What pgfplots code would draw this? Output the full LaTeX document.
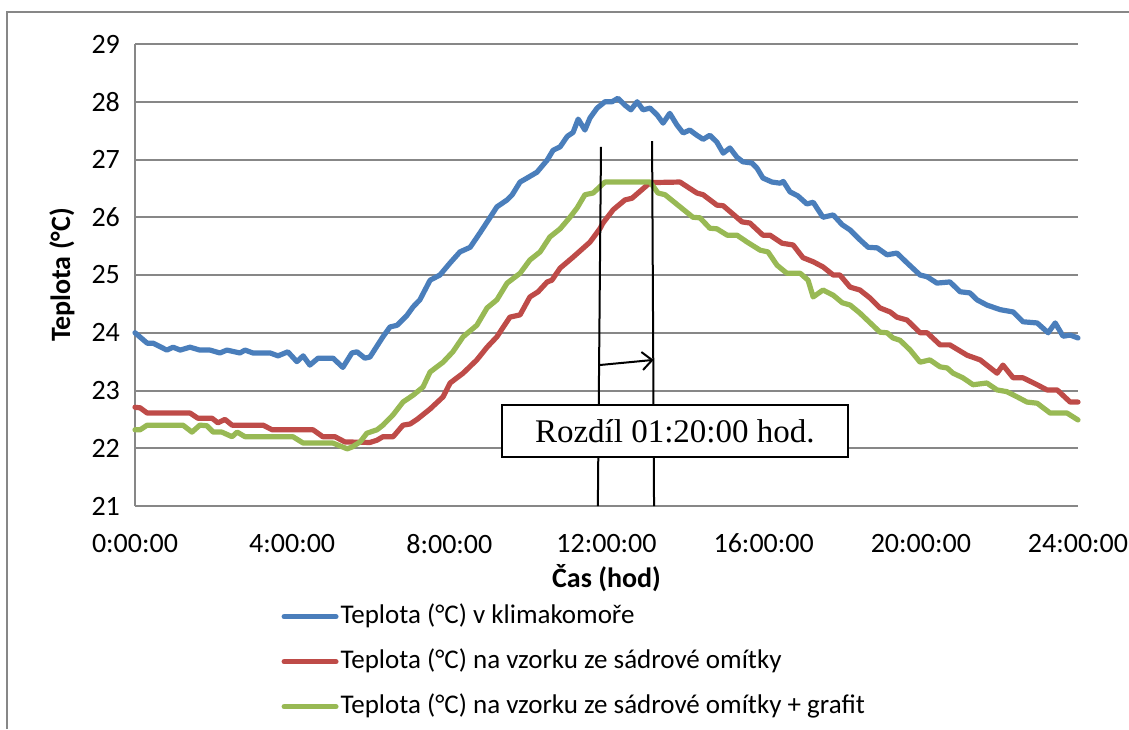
\documentclass[border=0pt]{standalone}
\usepackage{pgfplots}
\pgfplotsset{compat=1.18}
\usetikzlibrary{arrows.meta}
\usepackage{fontspec}
\setmainfont{Carlito}
\newfontfamily\timesfont{Liberation Serif}
\definecolor{serA}{HTML}{4A7EBB}
\definecolor{serB}{HTML}{BE4B48}
\definecolor{serC}{HTML}{98B954}
\definecolor{gridc}{HTML}{878787}

\begin{document}
\begin{tikzpicture}
\useasboundingbox (0,0) rectangle (564.5pt,364.5pt);
\draw[gridc, line width=1pt] (3.5pt,0) -- (3.5pt,358.5pt) -- (564.5pt,358.5pt);
\begin{axis}[
  at={(67.5pt,111.5pt)}, anchor=south west,
  scale only axis, width=471.5pt, height=231pt,
  xmin=0, xmax=24, ymin=21, ymax=29,
  axis lines*=left,
  axis line style={gridc, line width=1pt, -},
  xtick={0,4,8,12,16,20,24},
  xticklabels={0:00:00,4:00:00,8:00:00,12:00:00,16:00:00,20:00:00,24:00:00},
  ytick={21,22,...,29},
  ymajorgrids,
  grid style={gridc, line width=1pt},
  major tick length=0pt,
  tick label style={font=\fontsize{14}{16}\selectfont},
  /pgf/number format/assume math mode=true,
  xticklabel style={yshift=-10.5pt},
  yticklabel style={xshift=-4pt},
  xlabel={Čas (hod)},
  ylabel={Teplota (°C)},
  label style={font=\bfseries\fontsize{14}{16}\selectfont},
  xlabel style={at={(axis description cs:0.5,-0.1558)}, anchor=center},
  ylabel style={at={(axis description cs:-0.0774,0.5)}, anchor=center},
  legend style={at={(axis description cs:0.155,-0.19)}, anchor=north west,
    draw=none, fill=none, inner sep=0pt, row sep=0pt,
    font=\fontsize{13.5}{16}\selectfont,
    nodes={text height=10pt, text depth=3.5pt, inner ysep=4.5pt, inner xsep=1pt}},
  legend cell align=left,
  legend image code/.code={\draw[#1, line width=2.5pt] (0pt,0pt) -- (26pt,0pt);},
  every axis plot/.append style={line width=2.6pt, line join=round, line cap=round},
  clip=false,
]
\addplot[serA] coordinates {
(0,24.0) (0.31,23.82) (0.46,23.82) (0.81,23.7) (0.97,23.75) (1.15,23.7) (1.4,23.75)
(1.65,23.7) (1.91,23.7) (2.16,23.65) (2.34,23.7) (2.67,23.65) (2.8,23.7) (3.0,23.65)
(3.44,23.65) (3.64,23.6) (3.89,23.67) (4.12,23.5) (4.28,23.6) (4.45,23.44) (4.66,23.56)
(5.04,23.56) (5.29,23.4) (5.52,23.65) (5.65,23.67) (5.85,23.56) (5.98,23.58) (6.31,23.93)
(6.49,24.1) (6.67,24.13) (6.92,24.3) (7.08,24.45) (7.25,24.57) (7.51,24.91) (7.76,25.0)
(8.02,25.21) (8.27,25.4) (8.53,25.48) (8.78,25.73) (9.04,26.0) (9.21,26.18) (9.47,26.3)
(9.6,26.39) (9.8,26.61) (9.98,26.68) (10.23,26.78) (10.49,26.99) (10.64,27.16) (10.82,27.22)
(11.0,27.4) (11.15,27.47) (11.28,27.7) (11.45,27.51) (11.58,27.72) (11.76,27.89) (11.96,28.0)
(12.14,28.0) (12.29,28.06) (12.47,27.94) (12.62,27.86) (12.78,28.0) (12.93,27.86) (13.11,27.89)
(13.29,27.77) (13.44,27.63) (13.61,27.8) (13.79,27.6) (13.95,27.46) (14.12,27.51) (14.3,27.42)
(14.46,27.35) (14.63,27.42) (14.81,27.3) (14.97,27.11) (15.14,27.2) (15.32,27.04) (15.47,26.96)
(15.7,26.94) (15.83,26.85) (15.98,26.68) (16.21,26.61) (16.42,26.59) (16.5,26.62) (16.67,26.44)
(16.87,26.37) (17.1,26.23) (17.26,26.26) (17.51,26.0) (17.77,26.04) (18.0,25.87) (18.2,25.78)
(18.45,25.61) (18.66,25.48) (18.89,25.47) (19.14,25.35) (19.39,25.38) (19.65,25.21) (19.98,25.0)
(20.16,24.97) (20.41,24.86) (20.74,24.88) (21.0,24.71) (21.25,24.69) (21.43,24.57) (21.68,24.48)
(22.02,24.4) (22.35,24.36) (22.6,24.19) (22.96,24.17) (23.24,24.0) (23.42,24.17) (23.62,23.94)
(23.8,23.96) (24.0,23.91)
};
\addlegendentry{Teplota (°C) v klimakomoře}
\addplot[serB] coordinates {
(0,22.71) (0.13,22.7) (0.31,22.61) (1.4,22.61) (1.6,22.52) (1.96,22.52) (2.11,22.44)
(2.29,22.5) (2.47,22.4) (3.26,22.4) (3.49,22.32) (4.53,22.32) (4.78,22.2) (5.09,22.2)
(5.34,22.11) (5.98,22.1) (6.16,22.14) (6.31,22.2) (6.57,22.2) (6.82,22.4) (7.0,22.42)
(7.18,22.5) (7.51,22.68) (7.84,22.89) (8.02,23.13) (8.35,23.3) (8.7,23.53) (8.96,23.75)
(9.21,23.93) (9.54,24.27) (9.8,24.31) (10.05,24.62) (10.26,24.71) (10.49,24.88) (10.61,24.91)
(10.82,25.12) (11.15,25.31) (11.58,25.57) (11.84,25.81) (11.91,25.9) (12.17,26.13) (12.47,26.3)
(12.65,26.33) (13.11,26.6) (13.87,26.61) (14.3,26.42) (14.46,26.39) (14.81,26.21) (14.97,26.2)
(15.45,25.92) (15.65,25.9) (15.98,25.69) (16.16,25.69) (16.47,25.55) (16.75,25.52) (17.0,25.3)
(17.26,25.23) (17.51,25.14) (17.77,25.0) (17.94,25.0) (18.2,24.79) (18.45,24.74) (18.71,24.6)
(18.96,24.43) (19.22,24.36) (19.39,24.27) (19.65,24.22) (19.98,24.0) (20.16,24.0) (20.49,23.79)
(20.74,23.79) (21.18,23.61) (21.51,23.53) (21.94,23.3) (22.09,23.44) (22.35,23.22) (22.6,23.22)
(22.96,23.1) (23.21,23.01) (23.47,23.01) (23.8,22.8) (24.0,22.8)
};
\addlegendentry{Teplota (°C) na vzorku ze sádrové omítky}
\addplot[serC] coordinates {
(0,22.32) (0.13,22.32) (0.31,22.4) (1.22,22.4) (1.45,22.28) (1.65,22.4) (1.83,22.39)
(1.99,22.28) (2.21,22.28) (2.47,22.2) (2.6,22.28) (2.8,22.2) (4.02,22.2) (4.28,22.09)
(5.04,22.09) (5.4,21.99) (5.52,22.02) (5.73,22.11) (5.9,22.26) (6.16,22.32) (6.31,22.4)
(6.57,22.58) (6.82,22.8) (7.08,22.92) (7.33,23.06) (7.51,23.32) (7.84,23.49) (8.09,23.67)
(8.35,23.93) (8.7,24.13) (8.96,24.43) (9.21,24.57) (9.47,24.86) (9.8,25.03) (10.05,25.26)
(10.31,25.4) (10.56,25.66) (10.82,25.8) (11.07,26.0) (11.25,26.16) (11.45,26.39) (11.66,26.42)
(11.96,26.61) (13.11,26.61) (13.31,26.42) (13.49,26.39) (14.2,26.0) (14.38,25.99) (14.63,25.81)
(14.81,25.8) (15.07,25.69) (15.32,25.69) (15.58,25.57) (15.91,25.43) (16.11,25.4) (16.34,25.17)
(16.59,25.03) (16.93,25.03) (17.13,24.91) (17.26,24.62) (17.51,24.74) (17.77,24.65) (18.0,24.52)
(18.2,24.48) (18.45,24.34) (18.96,24.01) (19.14,24.0) (19.29,23.91) (19.47,23.87) (19.73,23.7)
(19.98,23.49) (20.23,23.53) (20.49,23.41) (20.67,23.39) (20.82,23.3) (21.07,23.22) (21.33,23.1)
(21.68,23.13) (21.94,23.01) (22.19,22.98) (22.45,22.89) (22.7,22.8) (22.96,22.78) (23.29,22.61)
(23.72,22.61) (24.0,22.49)
};
\addlegendentry{Teplota (°C) na vzorku ze sádrové omítky + grafit}
% annotation: time shift between the two peaks
\draw[black, line width=1pt] (axis cs:11.86,27.22) -- (axis cs:11.78,21);
\draw[black, line width=1pt] (axis cs:13.16,27.32) -- (axis cs:13.21,21);
\draw[black, line width=1pt, -{Straight Barb[length=5pt,width=9pt]}] (axis cs:11.81,23.44) -- (axis cs:13.2,23.53);
\node[draw=black, line width=1pt, fill=white, minimum width=173pt, minimum height=26pt,
  inner sep=0pt, font=\timesfont\fontsize{16.5}{18}\selectfont] at (axis cs:13.74,22.30) {Rozdíl 01:20:00 hod.};
\end{axis}
\end{tikzpicture}
\end{document}
